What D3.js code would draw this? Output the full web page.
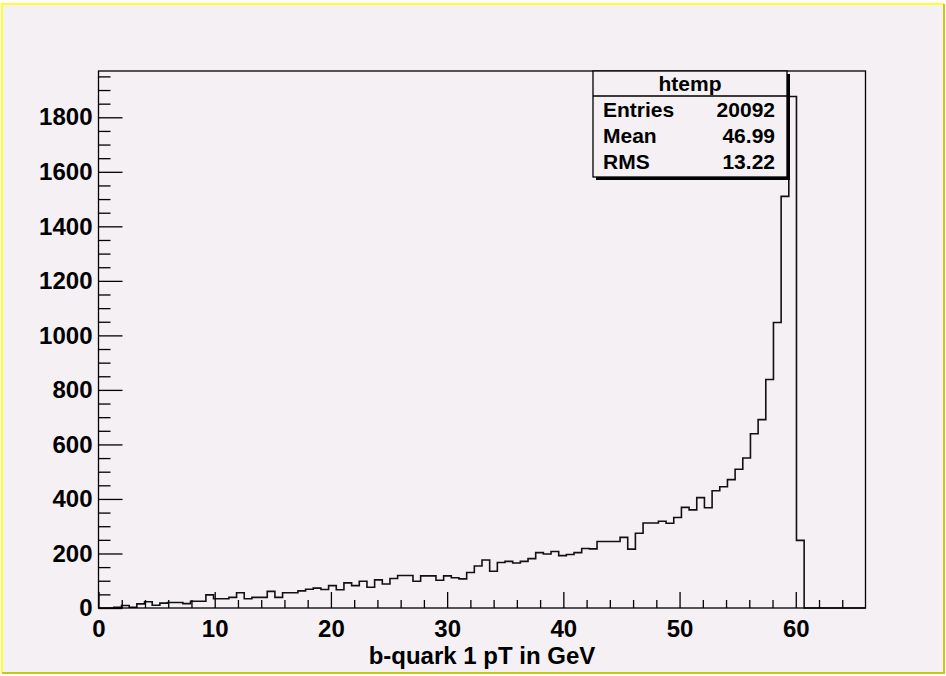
<!DOCTYPE html>
<html>
<head>
<meta charset="utf-8">
<script src="https://cdn.jsdelivr.net/npm/d3@7"></script>
<style>
  body { margin: 0; background: #ffffff; }
  svg { display: block; }
  text { font-family: "Liberation Sans", Arial, Helvetica, sans-serif; font-weight: bold; fill: #000; }
</style>
</head>
<body>
<svg id="canvas" width="946" height="676"></svg>
<script>
// Histogram binning: 100 equal bins from 0 to 66 GeV
const binLow = 0;
const binHigh = 66;
const nBins = 100;

// Bin contents, bin 0 .. bin 99
const counts = [
  0, 0, 3, 9, 3, 15, 23, 10, 18, 20,
  20, 16, 25, 25, 48, 34, 34, 39, 56, 34,
  39, 39, 61, 39, 56, 56, 63, 69, 73, 68,
  82, 67, 92, 82, 98, 76, 103, 88, 108, 119,
  119, 98, 118, 118, 102, 118, 111, 107, 130, 154,
  176, 135, 167, 171, 165, 171, 181, 203, 198, 207,
  192, 196, 203, 218, 217, 244, 244, 244, 259, 216,
  274, 312, 312, 318, 311, 332, 369, 360, 405, 368,
  430, 445, 471, 509, 550, 639, 691, 838, 1047, 1510,
  1876, 248, 0, 0, 0, 0, 0, 0, 0, 0
];

// Axis ticks and labels
const xMajorTicks = [0, 10, 20, 30, 40, 50, 60];
const xMinorStep = 2;
const yMajorTicks = [0, 200, 400, 600, 800, 1000, 1200, 1400, 1600, 1800];
const yMinorStep = 50;
const xTitle = "b-quark 1 pT in GeV";

// Statistics box
const statsTitle = "htemp";
const statsNames = ["Entries", "Mean", "RMS"];
const statsValues = ["20092", "46.99", "13.22"];

const svg = d3.select("#canvas");
const bg = "#f4f0f4";

// Canvas with bevelled yellow border
svg.append("rect").attr("x", 2).attr("y", 4).attr("width", 942).attr("height", 669).attr("fill", bg);
svg.append("path").attr("d", "M2,673 V4 H944").attr("fill", "none").attr("stroke", "#ffff30").attr("stroke-width", 2);
svg.append("path").attr("d", "M2,673 H944 V4").attr("fill", "none").attr("stroke", "#c8c810").attr("stroke-width", 2);

// Frame
const frame = { left: 98.5, right: 865.5, top: 71, bottom: 608 };
const binWidth = (binHigh - binLow) / nBins;
const yMax = 1.05 * d3.max(counts);

const x = d3.scaleLinear().domain([binLow, binHigh]).range([frame.left, frame.right]);
const y = d3.scaleLinear().domain([0, yMax]).range([frame.bottom, frame.top]);

// Histogram outline (step line)
let d = `M${x(binLow)},${y(0)}`;
counts.forEach((c, i) => {
  const x1 = x(binLow + (i + 1) * binWidth);
  d += `V${y(c)}H${x1}`;
});
d += `V${y(0)}`;
svg.append("path").attr("d", d).attr("fill", "none").attr("stroke", "#111").attr("stroke-width", 1.6);

// X axis: major and minor ticks point into the frame
const xMinor = d3.range(binLow, binHigh + 0.001, xMinorStep).filter(v => v % 10 !== 0 && v < binHigh);
const gx = svg.append("g").attr("transform", `translate(0,${frame.bottom})`);
gx.append("g").call(d3.axisBottom(x).tickValues(xMinor).tickSize(-8).tickFormat(""));
gx.append("g").call(d3.axisBottom(x).tickValues(xMajorTicks).tickSize(-16).tickPadding(12).tickFormat(d3.format("d")));
gx.selectAll(".domain").remove();
gx.selectAll("line").attr("stroke", "#000").attr("stroke-width", 1.3);
gx.selectAll("text").attr("font-size", 24).attr("font-family", null);

// Y axis
const yMinor = d3.range(0, yMax, yMinorStep).filter(v => v % 200 !== 0);
const gy = svg.append("g").attr("transform", `translate(${frame.left},0)`);
gy.append("g").call(d3.axisLeft(y).tickValues(yMinor).tickSize(-12).tickFormat(""));
gy.append("g").call(d3.axisLeft(y).tickValues(yMajorTicks).tickSize(-24).tickPadding(6).tickFormat(d3.format("d")));
gy.selectAll(".domain").remove();
gy.selectAll("line").attr("stroke", "#000").attr("stroke-width", 1.3);
gy.selectAll("text").attr("font-size", 24).attr("font-family", null);

// Frame border
svg.append("rect")
  .attr("x", frame.left).attr("y", frame.top)
  .attr("width", frame.right - frame.left).attr("height", frame.bottom - frame.top)
  .attr("fill", "none").attr("stroke", "#000").attr("stroke-width", 1.3);

// X axis title, centred under the axis
svg.append("text")
  .attr("x", (frame.left + frame.right) / 2).attr("y", 664)
  .attr("text-anchor", "middle").attr("font-size", 24)
  .text(xTitle);

// Statistics box with drop shadow
const sb = { x: 593, y: 71, w: 194, h: 106, titleH: 25 };
svg.append("rect").attr("x", sb.x + 3).attr("y", sb.y + 3).attr("width", sb.w).attr("height", sb.h).attr("fill", "#000");
svg.append("rect").attr("x", sb.x).attr("y", sb.y).attr("width", sb.w).attr("height", sb.h)
  .attr("fill", bg).attr("stroke", "#000").attr("stroke-width", 1.3);
svg.append("line").attr("x1", sb.x).attr("x2", sb.x + sb.w).attr("y1", sb.y + sb.titleH).attr("y2", sb.y + sb.titleH)
  .attr("stroke", "#000").attr("stroke-width", 1.3);
svg.append("text").attr("x", sb.x + sb.w / 2).attr("y", sb.y + 20).attr("text-anchor", "middle")
  .attr("font-size", 21).text(statsTitle);
const rowY = d3.scaleLinear().domain([0, 1]).range([sb.y + 46, sb.y + 72]);
statsNames.forEach((n, i) => {
  svg.append("text").attr("x", sb.x + 10).attr("y", rowY(i)).attr("font-size", 21).text(n);
  svg.append("text").attr("x", sb.x + sb.w - 12).attr("y", rowY(i)).attr("text-anchor", "end")
    .attr("font-size", 21).text(statsValues[i]);
});
</script>
</body>
</html>
